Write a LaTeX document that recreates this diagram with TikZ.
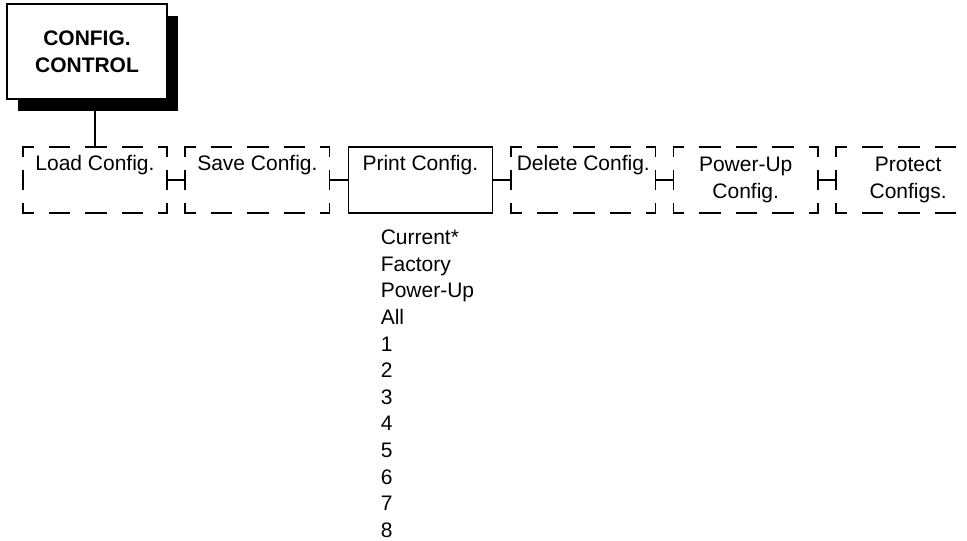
\documentclass[tikz,border=0pt]{standalone}
\usepackage{fontspec}
\setmainfont{Liberation Sans}
\usetikzlibrary{
    positioning,                      % right=of, below=of
    shadows                           % sombra del cuadro principal
}
\tikzset{
    menu/.style={
        rectangle, minimum width=144pt, minimum height=66pt,
        inner sep=0pt, align=center,
        font=\fontsize{21}{27}\selectfont
    },
    chosen/.style={
        menu, draw, line width=1.5pt
    },
    option/.style={
        menu
    },
    topbox/.style={
        rectangle, draw, line width=2.2pt, fill=white,
        minimum width=160pt, minimum height=95pt, align=center,
        font=\bfseries\fontsize{21}{27}\selectfont,
        drop shadow={shadow xshift=11pt, shadow yshift=-12pt,
            fill=black, opacity=1}
    },
    values/.style={
        align=left, inner sep=0pt,
        font=\fontsize{21}{26.6}\selectfont
    },
    link/.style={
        line width=1.5pt
    },
    hedge/.style={
        line width=1.5pt, line cap=rect,
        dash pattern=on 20pt off 16.5pt, dash phase=10pt
    },
    vedge/.style={
        line width=1.5pt, line cap=rect,
        dash pattern=on 18pt off 15pt, dash phase=9pt
    }
}

\begin{document}
\begin{tikzpicture}[x=1pt, y=-1pt, node distance=18pt]
    \useasboundingbox (0,0) rectangle (967,541);
    \clip (0,0) rectangle (967,541);

    \node[topbox] (title) at (87,51.5) {CONFIG.\\CONTROL};

    \node[option] (load) at (95,180) {Load Config.\\\strut};
    \node[option, right=of load] (save) {Save Config.\\\strut};
    \node[chosen, right=of save] (print) {Print Config.\\\strut};
    \node[option, right=of print] (delete) {Delete Config.\\\strut};
    \node[option, right=of delete] (powerup) {Power-Up\\Config.};
    \node[option, right=of powerup] (protect) {Protect\\Configs.};

    \node[values, below=16pt of print.south west, anchor=north west, xshift=33pt] (printlist)
        {Current*\\Factory\\Power-Up\\All\\1\\2\\3\\4\\5\\6\\7\\8};

    % --- Bordes discontinuos de las opciones ---
    \foreach \n in {load, save, delete, powerup, protect} {
        \draw[hedge] (\n.north west) -- (\n.north east);
        \draw[hedge] (\n.south west) -- (\n.south east);
        \draw[vedge] (\n.north west) -- (\n.south west);
        \draw[vedge] (\n.north east) -- (\n.south east);
    }

    % --- Conexiones ---
    \draw[link] (title.south -| load.north) -- (load.north);
    \foreach \a/\b in {load/save, save/print, print/delete, delete/powerup, powerup/protect}
        \draw[link] (\a.east) -- (\b.west);
\end{tikzpicture}
\end{document}
